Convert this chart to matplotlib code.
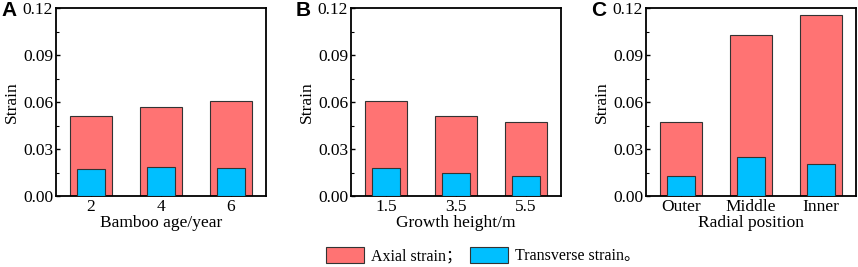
import matplotlib
matplotlib.use("Agg")
import matplotlib.pyplot as plt
from matplotlib.ticker import MultipleLocator
from matplotlib.patches import Patch

plt.rcParams['font.family'] = ['Liberation Serif', 'Noto Sans CJK SC', 'DejaVu Sans']

age_labels = ["2", "4", "6"]
age_axial = [0.0512, 0.0570, 0.0606]
age_trans = [0.0173, 0.0184, 0.0179]

height_labels = ["1.5", "3.5", "5.5"]
height_axial = [0.0606, 0.0512, 0.0470]
height_trans = [0.0177, 0.0147, 0.0130]

radial_labels = ["Outer", "Middle", "Inner"]
radial_axial = [0.0470, 0.1029, 0.1157]
radial_trans = [0.0130, 0.0252, 0.0207]

legend_labels = ["Axial strain；", "Transverse strain。"]

panels = [
    ("A", age_labels, age_axial, age_trans, "Bamboo age/year"),
    ("B", height_labels, height_axial, height_trans, "Growth height/m"),
    ("C", radial_labels, radial_axial, radial_trans, "Radial position"),
]

RED = "#FF7373"
BLUE = "#00BFFF"
EDGE = "#333333"
W, H = 858, 267

fig = plt.figure(figsize=(W / 100, H / 100), dpi=100)
lefts = [56, 351, 646]
width_px = 210
top_px, bottom_px = 8, 196

for (lab, cats, ax_vals, tr_vals, xlabel), lpx in zip(panels, lefts):
    ax = fig.add_axes([lpx / W, 1 - bottom_px / H, width_px / W, (bottom_px - top_px) / H])
    x = list(range(len(cats)))
    ax.bar(x, ax_vals, width=0.6, color=RED, edgecolor=EDGE, linewidth=0.8, zorder=2)
    ax.bar(x, tr_vals, width=0.4, color=BLUE, edgecolor=EDGE, linewidth=0.8, zorder=3)
    ax.set_xlim(-0.5, len(cats) - 0.5)
    ax.set_ylim(0, 0.12)
    ax.yaxis.set_minor_locator(MultipleLocator(0.015))
    ax.set_yticks([0, 0.03, 0.06, 0.09, 0.12])
    ax.set_yticklabels(["0.00", "0.03", "0.06", "0.09", "0.12"])
    ax.set_xticks(x)
    ax.set_xticklabels(cats)
    ax.tick_params(axis='both', which='major', direction='in', length=3, width=1, labelsize=12.5, pad=2)
    ax.tick_params(axis='y', which='minor', direction='in', length=2, width=0.8)
    ax.tick_params(axis='x', which='minor', bottom=False)
    for s in ax.spines.values():
        s.set_linewidth(1.3)
    ax.set_ylabel("Strain", fontsize=12.5, labelpad=2)
    ax.set_xlabel(xlabel, fontsize=12.5, labelpad=0)
    fig.text((lpx - 55) / W, 1 - 10 / H, lab, fontsize=15, fontweight='bold',
             family='Liberation Sans', ha='left', va='center')

colors = [RED, BLUE]
leg_lefts = [326, 470]
for label, c, lx in zip(legend_labels, colors, leg_lefts):
    h = Patch(facecolor=c, edgecolor=EDGE, linewidth=0.8, label=label)
    fig.legend(handles=[h], loc='center left', bbox_to_anchor=(lx / W, 1 - 255.5 / H),
               frameon=False, fontsize=11.5, handlelength=2.4, handleheight=1.2,
               handletextpad=0.4, borderpad=0, borderaxespad=0)

fig.savefig("out.png", dpi=100)
